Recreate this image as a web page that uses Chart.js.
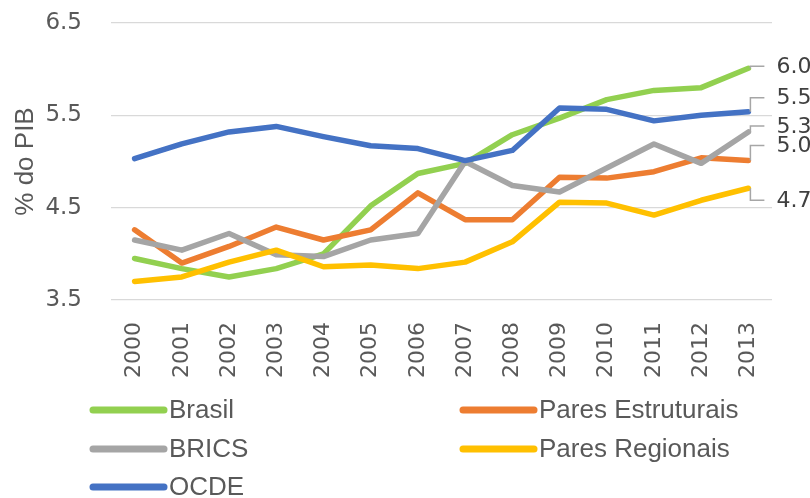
<!DOCTYPE html>
<html>
<head>
<meta charset="utf-8">
<script src="https://cdn.jsdelivr.net/npm/chart.js@4.4.1/dist/chart.umd.min.js"></script>
<style>
  html, body { margin: 0; padding: 0; background: #fff; }
  #wrap { width: 810px; height: 498px; }
</style>
</head>
<body>
<div id="wrap"><canvas id="myChart" width="810" height="498"></canvas></div>
<script>
const years = ["2000", "2001", "2002", "2003", "2004", "2005", "2006", "2007", "2008", "2009", "2010", "2011", "2012", "2013"];
const seriesNames = ["Brasil", "Pares Estruturais", "BRICS", "Pares Regionais", "OCDE"];
const brasil = [3.95, 3.84, 3.75, 3.84, 4.00, 4.52, 4.87, 4.98, 5.29, 5.47, 5.67, 5.77, 5.80, 6.01];
const paresEstruturais = [4.26, 3.90, 4.08, 4.29, 4.15, 4.26, 4.66, 4.37, 4.37, 4.83, 4.82, 4.89, 5.04, 5.01];
const brics = [4.15, 4.04, 4.22, 3.99, 3.97, 4.15, 4.22, 5.00, 4.74, 4.67, 4.93, 5.19, 4.98, 5.32];
const paresRegionais = [3.70, 3.75, 3.91, 4.04, 3.86, 3.88, 3.84, 3.91, 4.13, 4.56, 4.55, 4.42, 4.58, 4.71];
const ocde = [5.03, 5.19, 5.32, 5.38, 5.27, 5.17, 5.14, 5.01, 5.12, 5.58, 5.565, 5.44, 5.50, 5.54];
const yTicks = [3.5, 4.5, 5.5, 6.5];

const colors = ["#92d050", "#ed7d31", "#a5a5a5", "#ffc000", "#4472c4"];
const allValues = [brasil, paresEstruturais, brics, paresRegionais, ocde];

// end-label nudges (px) so the labels don't collide, same order as seriesNames
const labelNudge = [-2, -15, -6, 12, -14];

const textColor = "#595959";
const numFont = "'DejaVu Sans', sans-serif";
const txtFont = "'Liberation Sans', Arial, sans-serif";

const endLabels = {
    id: "endLabels",
    afterDatasetsDraw(chart) {
        const ctx = chart.ctx;
        ctx.save();
        ctx.font = "22px " + numFont;
        ctx.textBaseline = "middle";
        ctx.textAlign = "left";
        chart.data.datasets.forEach((ds, i) => {
            const meta = chart.getDatasetMeta(i);
            const pt = meta.data[meta.data.length - 1];
            const v = ds.data[ds.data.length - 1];
            const ly = pt.y + labelNudge[i];
            ctx.strokeStyle = "#a6a6a6";
            ctx.lineWidth = 1.5;
            ctx.beginPath();
            ctx.moveTo(pt.x + 2, pt.y);
            ctx.lineTo(pt.x + 2, ly);
            ctx.lineTo(pt.x + 16, ly);
            ctx.stroke();
            ctx.fillStyle = "#404040";
            ctx.fillText(v.toFixed(1), pt.x + 28, ly + 1);
        });
        ctx.restore();
    }
};

const sideLegend = {
    id: "sideLegend",
    afterDraw(chart) {
        const ctx = chart.ctx;
        const colX = [93, 463];
        const rowY = [410, 449, 487];
        ctx.save();
        ctx.font = "26px " + txtFont;
        ctx.textBaseline = "middle";
        ctx.lineCap = "round";
        chart.data.datasets.forEach((ds, i) => {
            const x = colX[i % 2];
            const y = rowY[Math.floor(i / 2)];
            ctx.strokeStyle = ds.borderColor;
            ctx.lineWidth = 7;
            ctx.beginPath();
            ctx.moveTo(x, y);
            ctx.lineTo(x + 71, y);
            ctx.stroke();
            ctx.fillStyle = textColor;
            ctx.fillText(ds.label, x + 76, y + 1);
        });
        ctx.restore();
    }
};

function makeDatasets() {
    return seriesNames.map((name, i) => ({
        label: name,
        data: allValues[i],
        borderColor: colors[i],
        backgroundColor: colors[i],
        borderWidth: 5.5,
        pointRadius: 0,
        tension: 0,
        borderJoinStyle: "round",
        borderCapStyle: "round",
        order: seriesNames.length - 1 - i
    }));
}

function plotChart() {
    const ctx = document.getElementById("myChart").getContext("2d");
    new Chart(ctx, {
        type: "line",
        data: { labels: years, datasets: makeDatasets() },
        options: {
            responsive: false,
            animation: false,
            layout: { padding: { top: 23, right: 38, bottom: 111, left: 0 } },
            plugins: {
                legend: { display: false },
                tooltip: { enabled: false }
            },
            scales: {
                x: {
                    offset: true,
                    grid: { display: false, drawTicks: false },
                    border: { display: false },
                    ticks: {
                        color: textColor,
                        font: { family: numFont, size: 22 },
                        minRotation: 90,
                        maxRotation: 90,
                        padding: 22,
                        autoSkip: false
                    },
                    afterFit(scale) { scale.height = 87; }
                },
                y: {
                    min: 3.5,
                    max: 6.5,
                    afterBuildTicks(scale) { scale.ticks = yTicks.map(v => ({ value: v })); },
                    grid: { color: "#d9d9d9", lineWidth: 1.2, drawTicks: false },
                    border: { display: false },
                    ticks: {
                        color: textColor,
                        font: { family: numFont, size: 23 },
                        padding: 29,
                        callback: v => v.toFixed(1)
                    },
                    title: {
                        display: true,
                        text: "% do PIB",
                        color: textColor,
                        font: { family: txtFont, size: 26 },
                        padding: { top: 10, bottom: 0 }
                    },
                    afterFit(scale) {
                        scale.width = 111;
                        scale.paddingTop = 0;
                        scale.paddingBottom = 0;
                    }
                }
            }
        },
        plugins: [endLabels, sideLegend]
    });
}

plotChart();
</script>
</body>
</html>
